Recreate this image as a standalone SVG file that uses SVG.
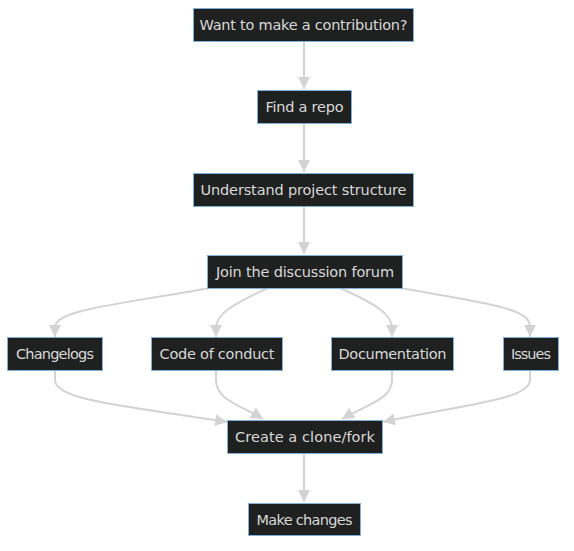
<svg xmlns="http://www.w3.org/2000/svg" width="574" height="551" viewBox="0 0 574 551">
<style>
.node rect{fill:#1f2020;stroke:#81b1db;stroke-width:1}
.node text{fill:#d9d9d9;font-family:"DejaVu Sans",sans-serif;font-size:14.5px;text-anchor:middle;dominant-baseline:central}
.edges path{fill:none;stroke:#d3d3d3;stroke-width:2}
</style>
<defs>
<marker id="arr" markerUnits="userSpaceOnUse" viewBox="0 0 10 10" refX="10" refY="5" markerWidth="12" markerHeight="12" orient="auto">
<path d="M0,0 L10,5 L0,10 z" fill="#d3d3d3"/>
</marker>
</defs>
<rect width="574" height="551" fill="#ffffff"/>
<g class="edges">
<path d="M304,41 L304,89" marker-end="url(#arr)"/>
<path d="M304,123 L304,172" marker-end="url(#arr)"/>
<path d="M304,206 L304,254" marker-end="url(#arr)"/>
<path d="M210,288 C120,304 55,310 55,327 L55,337" marker-end="url(#arr)"/>
<path d="M268,288 C230,305 216,315 216,328 L216,337" marker-end="url(#arr)"/>
<path d="M340,288 C378,305 392,315 392,328 L392,337" marker-end="url(#arr)"/>
<path d="M400,288 C500,305 530,310 530,327 L530,337" marker-end="url(#arr)"/>
<path d="M55,371 L55,380 C55,400 120,405 227,422" marker-end="url(#arr)"/>
<path d="M216,371 L216,380 C216,400 240,405 263,419" marker-end="url(#arr)"/>
<path d="M392,371 L392,380 C392,400 365,405 342,419" marker-end="url(#arr)"/>
<path d="M530,371 L530,380 C530,400 460,405 383,422" marker-end="url(#arr)"/>
<path d="M304,453 L304,502" marker-end="url(#arr)"/>
</g>
<g id="n_want" class="node"><rect x="193.5" y="8.5" width="220" height="33"/><text x="303.5" y="25" textLength="208">Want to make a contribution?</text></g>
<g id="n_find" class="node"><rect x="257.5" y="90.5" width="94" height="33"/><text x="304.5" y="107" textLength="78">Find a repo</text></g>
<g id="n_understand" class="node"><rect x="193.5" y="173.5" width="220" height="33"/><text x="303.5" y="190" textLength="206">Understand project structure</text></g>
<g id="n_join" class="node"><rect x="207.5" y="255.5" width="195" height="33"/><text x="305" y="272" textLength="178">Join the discussion forum</text></g>
<g id="n_changelogs" class="node"><rect x="7.5" y="337.5" width="95" height="33"/><text x="55" y="354" textLength="78">Changelogs</text></g>
<g id="n_code" class="node"><rect x="151.5" y="337.5" width="131" height="33"/><text x="217" y="354" textLength="115">Code of conduct</text></g>
<g id="n_doc" class="node"><rect x="331.5" y="337.5" width="122" height="33"/><text x="392.5" y="354" textLength="108">Documentation</text></g>
<g id="n_issues" class="node"><rect x="503.5" y="337.5" width="55" height="33"/><text x="531" y="354" textLength="40">Issues</text></g>
<g id="n_create" class="node"><rect x="227.5" y="420.5" width="155" height="33"/><text x="305" y="437" textLength="140">Create a clone/fork</text></g>
<g id="n_make" class="node"><rect x="248.5" y="503.5" width="112" height="32"/><text x="304.5" y="519.5" textLength="96">Make changes</text></g>
</svg>
